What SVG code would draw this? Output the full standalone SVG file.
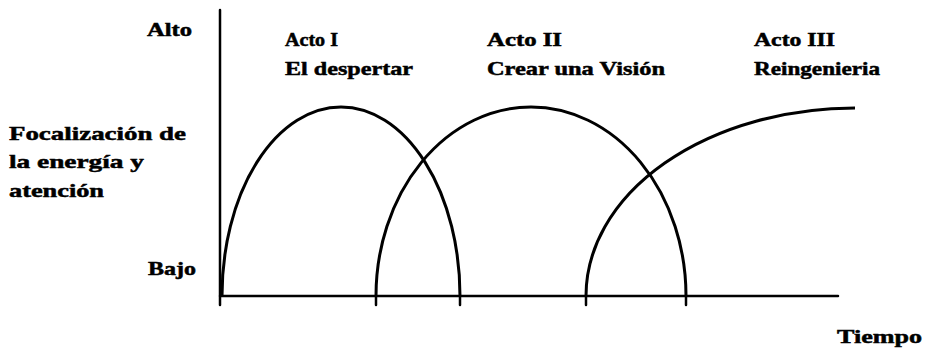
<svg xmlns="http://www.w3.org/2000/svg" width="927" height="356" viewBox="0 0 927 356">
<style>
text{font-family:"Liberation Serif","DejaVu Serif",serif;font-weight:bold;font-size:19px;fill:#000;stroke:#000;stroke-width:0.5}
.ax{stroke:#000;stroke-width:2.5;fill:none;stroke-linecap:round}
.cv{stroke:#000;stroke-width:3;fill:none}
</style>
<rect width="927" height="356" fill="#fff"/>
<g id="axes">
<line class="ax" x1="220" y1="10" x2="220" y2="305"/>
<line class="ax" x1="220" y1="296" x2="838" y2="296"/>
<line class="ax" x1="376" y1="296" x2="376" y2="305"/>
<line class="ax" x1="460" y1="296" x2="460" y2="305"/>
<line class="ax" x1="586" y1="296" x2="586" y2="305"/>
<line class="ax" x1="686" y1="296" x2="686" y2="305"/>
</g>
<g id="connectors">
<path id="curve1" class="cv" d="M222,296 A119,189 0 0 1 460,296"/>
<path id="curve2" class="cv" d="M376,296 A155,189 0 0 1 686,296"/>
<path id="curve3" class="cv" d="M586,296 A269,188 0 0 1 855,108"/>
</g>
<g id="labels">
<text x="147" y="36" textLength="45" lengthAdjust="spacingAndGlyphs">Alto</text>
<text x="148" y="275" textLength="48" lengthAdjust="spacingAndGlyphs">Bajo</text>
<text x="9" y="140" textLength="177" lengthAdjust="spacingAndGlyphs">Focalización de</text>
<text x="9" y="168" textLength="135" lengthAdjust="spacingAndGlyphs">la  energía y</text>
<text x="9" y="197" textLength="95" lengthAdjust="spacingAndGlyphs">atención</text>
<text x="837" y="343" textLength="85" lengthAdjust="spacingAndGlyphs">Tiempo</text>
</g>
<g id="act1">
<text x="285" y="46" textLength="53" lengthAdjust="spacingAndGlyphs">Acto I</text>
<text x="285" y="75" textLength="128" lengthAdjust="spacingAndGlyphs">El despertar</text>
</g>
<g id="act2">
<text x="487" y="46" textLength="75" lengthAdjust="spacingAndGlyphs">Acto II</text>
<text x="487" y="75" textLength="178" lengthAdjust="spacingAndGlyphs">Crear una Visión</text>
</g>
<g id="act3">
<text x="754" y="46" textLength="81" lengthAdjust="spacingAndGlyphs">Acto III</text>
<text x="754" y="75" textLength="126" lengthAdjust="spacingAndGlyphs">Reingenieria</text>
</g>
</svg>
